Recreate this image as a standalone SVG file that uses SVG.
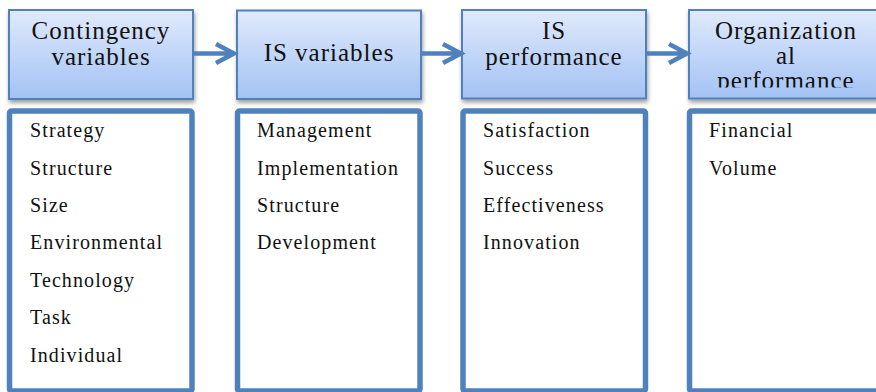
<svg xmlns="http://www.w3.org/2000/svg" width="876" height="392" viewBox="0 0 876 392">
  <defs>
    <linearGradient id="hdrFill" x1="0" y1="0" x2="0" y2="1">
      <stop offset="0" stop-color="#e0eafc"/>
      <stop offset="1" stop-color="#a3c2f4"/>
    </linearGradient>
    <filter id="shadow" x="-10%" y="-10%" width="125%" height="135%">
      <feDropShadow dx="1" dy="3" stdDeviation="2.2" flood-color="#000" flood-opacity="0.38"/>
    </filter>
    <clipPath id="clip4">
      <rect x="689" y="10" width="200" height="77.5"/>
    </clipPath>
  </defs>
  <style>
    .hdr { fill: url(#hdrFill); stroke: #4f81bd; stroke-width: 2; filter: url(#shadow); }
    .list { fill: #ffffff; stroke: #4f81bd; stroke-width: 5.5; }
    text { font-family: 'Liberation Serif', 'Times New Roman', serif; fill: #111; }
    .ht { font-size: 25px; letter-spacing: 1px; text-anchor: middle; }
    .it { font-size: 20px; letter-spacing: 1.1px; }
    .conn { fill: none; stroke: #4f81bd; stroke-width: 4.5; stroke-linecap: butt; stroke-linejoin: miter; }
  </style>

  <!-- header boxes -->
  <g id="contingency">
    <rect class="hdr" x="9" y="10" width="184" height="89"/>
    <text class="ht" x="101" y="39">Contingency</text>
    <text class="ht" x="101" y="65">variables</text>
  </g>
  <g id="is-variables">
    <rect class="hdr" x="237" y="10.5" width="184" height="88.5"/>
    <text class="ht" x="329" y="61">IS variables</text>
  </g>
  <g id="is-performance">
    <rect class="hdr" x="462" y="10" width="184" height="88.5"/>
    <text class="ht" x="554" y="39">IS</text>
    <text class="ht" x="554" y="65">performance</text>
  </g>
  <g id="org-performance">
    <rect class="hdr" x="689" y="10" width="194" height="88.5"/>
    <!-- third line is cut by the box's text area -->
    <g clip-path="url(#clip4)">
      <text class="ht" x="786" y="39">Organization</text>
      <text class="ht" x="786" y="64">al</text>
      <text class="ht" x="786" y="89">performance</text>
    </g>
  </g>

  <!-- item lists -->
  <g id="contingency-list">
    <rect class="list" x="9.5" y="111" width="182.5" height="280" rx="2"/>
    <text class="it" x="30" y="137.2">Strategy</text>
    <text class="it" x="30" y="174.6">Structure</text>
    <text class="it" x="30" y="212">Size</text>
    <text class="it" x="30" y="249.4">Environmental</text>
    <text class="it" x="30" y="286.8">Technology</text>
    <text class="it" x="30" y="324.2">Task</text>
    <text class="it" x="30" y="361.6">Individual</text>
  </g>
  <g id="is-variables-list">
    <rect class="list" x="237.5" y="111" width="182.5" height="280" rx="2"/>
    <text class="it" x="257" y="137.2">Management</text>
    <text class="it" x="257" y="174.6">Implementation</text>
    <text class="it" x="257" y="212">Structure</text>
    <text class="it" x="257" y="249.4">Development</text>
  </g>
  <g id="is-performance-list">
    <rect class="list" x="463" y="111" width="182.5" height="280" rx="2"/>
    <text class="it" x="483" y="137.2">Satisfaction</text>
    <text class="it" x="483" y="174.6">Success</text>
    <text class="it" x="483" y="212">Effectiveness</text>
    <text class="it" x="483" y="249.4">Innovation</text>
  </g>
  <g id="org-performance-list">
    <rect class="list" x="689.5" y="111" width="194" height="280" rx="2"/>
    <text class="it" x="709" y="137.2">Financial</text>
    <text class="it" x="709" y="174.6">Volume</text>
  </g>

  <!-- connectors -->
  <g id="connectors">
    <path class="conn" d="M193 53.5 H233 M216 44 L234 53.5 L216 63"/>
    <path class="conn" d="M421 53.5 H460 M443 44 L461 53.5 L443 63"/>
    <path class="conn" d="M646 53.5 H686 M669 44 L687 53.5 L669 63"/>
  </g>
</svg>
